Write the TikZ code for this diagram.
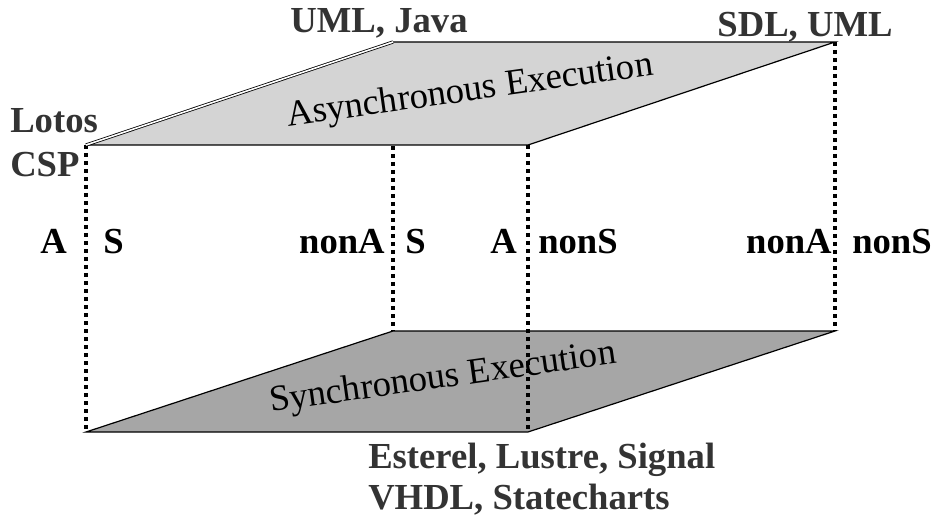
\documentclass[tikz,border=0pt]{standalone}
\usepackage{fontspec}
\setmainfont{Liberation Serif}
\usepackage{tikz}

\begin{document}
\begin{tikzpicture}[
            x=0.75pt, y=-0.75pt, % 一个单位 = 一个像素
            face/.style={draw, line width=0.9pt}, % 平面边框
            topface/.style={face, fill=black!17}, % 上平面
            botface/.style={face, fill=black!35}, % 下平面
            edge/.style={line width=3pt, dash pattern=on 3pt off 3pt}, % 虚线竖边
            every node/.style={
                inner sep=0, % 内边距为 0
                font=\fontsize{27.5}{32}\selectfont % 字体大小
            },
            lang/.style={font=\fontsize{27.5}{32}\selectfont\bfseries, text=black!80}, % 语言名称
            axis/.style={font=\fontsize{27.5}{32}\selectfont\bfseries}, % A / S 标记
            plane/.style={rotate=8} % 平面上的文字
        ]
        \useasboundingbox (0,0) rectangle (936,524);

        % 下平面的四个角
        \coordinate (b1) at (86,432);
        \coordinate (b2) at (528,432);
        \coordinate (b3) at (835,331);
        \coordinate (b4) at (393,331);
        % 上平面的四个角
        \coordinate (t1) at (86,145);
        \coordinate (t2) at (528,145);
        \coordinate (t3) at (835,42);
        \coordinate (t4) at (393,42);

        % 下平面
        \draw[botface] (b1) -- (b2) -- (b3) -- (b4) -- cycle;
        \node[plane] (sync) at (443,379) {Synchronous Execution};

        % 竖边
        \draw[edge] (t1) -- (b1);
        \draw[edge] (t2) -- (b2);
        \draw[edge] (t3) -- (b3);
        \draw[edge] (t4) -- (b4);

        % 上平面
        \fill[black!17] (t1) -- (t2) -- (t3) -- (t4) -- cycle;
        \draw[line width=0.9pt] (t4) -- (t3) -- (t2) -- (t1);
        \draw[line width=0.6pt, double=white, double distance=1.2pt] (t1) -- (t4);
        \node[plane] (async) at (470,92) {Asynchronous Execution};

        % 语言名称
        \node[lang, anchor=base] (umljava) at (379,33) {UML, Java};
        \node[lang, anchor=base] (sdluml) at (805,37) {SDL, UML};
        \node[lang, anchor=base west] (lotos) at (10,133) {Lotos};
        \node[lang, anchor=base west] (csp) at (10,177) {CSP};
        \node[lang, anchor=base west] (esterel) at (368,468) {Esterel, Lustre, Signal};
        \node[lang, anchor=base west] (vhdl) at (368,509) {VHDL, Statecharts};

        % A / S 标记
        \node[axis, anchor=base west] (a1) at (40,253) {A};
        \node[axis, anchor=base west] (s1) at (103,253) {S};
        \node[axis, anchor=base east] (a2) at (385,253) {nonA};
        \node[axis, anchor=base west] (s2) at (405,253) {S};
        \node[axis, anchor=base east] (a3) at (517,253) {A};
        \node[axis, anchor=base west] (s3) at (538,253) {nonS};
        \node[axis, anchor=base east] (a4) at (832,253) {nonA};
        \node[axis, anchor=base west] (s4) at (852,253) {nonS};
        \end{tikzpicture}
\end{document}
